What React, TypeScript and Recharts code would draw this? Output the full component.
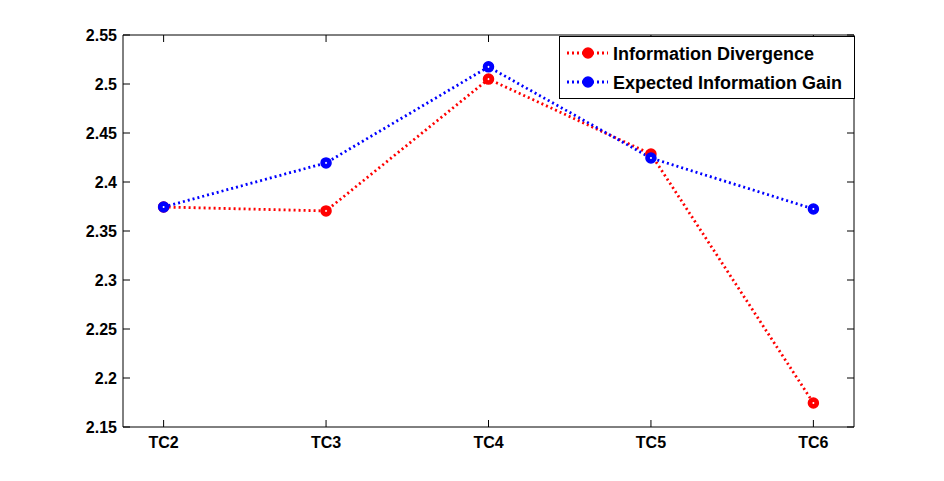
import React from 'react';
import { LineChart, Line, XAxis, YAxis, Legend } from 'recharts';

const categories = ['TC2', 'TC3', 'TC4', 'TC5', 'TC6'];
const infoDivergence = [2.3745, 2.3705, 2.505, 2.4285, 2.1745];
const expectedGain = [2.3745, 2.4195, 2.5175, 2.4245, 2.3725];
const yTicks = [2.15, 2.2, 2.25, 2.3, 2.35, 2.4, 2.45, 2.5, 2.55];
const xTicks = [2, 3, 4, 5, 6];

const data = categories.map((c, i) => ({
  x: i + 2,
  name: c,
  div: infoDivergence[i],
  gain: expectedGain[i],
}));

const FONT = "'Liberation Sans', Arial, sans-serif";
const TICK_LEN = 7;
const DASH = '2 3';
const LINE_W = 2.8;

const makeDot = (color: string) => (props: any) => {
  const { cx, cy, index } = props;
  if (cx == null || cy == null) return <g key={index} />;
  return (
    <g key={index}>
      <circle cx={cx} cy={cy} r={5} fill={color} stroke={color} strokeWidth={1.5} />
      <rect x={cx - 1} y={cy - 0.5} width={2} height={1} fill="#fff" />
      <rect x={cx - 0.5} y={cy - 1} width={1} height={2} fill="#fff" />
    </g>
  );
};

const series = [
  { key: 'div', label: 'Information Divergence', color: '#ff0000' },
  { key: 'gain', label: 'Expected Information Gain', color: '#0000ff' },
];

const LegendBox = () => (
  <svg width={296} height={63} style={{ display: 'block' }}>
    <rect x={0.5} y={0.5} width={295} height={62} fill="#fff" stroke="#000" strokeWidth={1} />
    {series.map((s, i) => {
      const cy = 17 + i * 29;
      return (
        <g key={s.key}>
          <line x1={8} x2={49} y1={cy} y2={cy} stroke={s.color} strokeWidth={LINE_W} strokeDasharray={DASH} />
          <circle cx={29} cy={cy} r={5} fill={s.color} stroke={s.color} strokeWidth={1.5} />
          <text x={54} y={cy + 7} fontFamily={FONT} fontWeight="bold" fontSize={18} fill="#000">
            {s.label}
          </text>
        </g>
      );
    })}
  </svg>
);

const fmtY = (v: number) => String(Number(v.toFixed(2)));
const fmtX = (v: number) => categories[v - 2] ?? '';

const LeftTick = (props: any) => {
  const { x, y, payload } = props;
  return (
    <g>
      <line x1={x} x2={x + TICK_LEN} y1={y} y2={y} stroke="#000" strokeWidth={1} />
      <text x={x - 6} y={y + 5.5} textAnchor="end" fontFamily={FONT} fontWeight="bold" fontSize={16} fill="#000">
        {fmtY(payload.value)}
      </text>
    </g>
  );
};

const RightTick = (props: any) => {
  const { x, y } = props;
  return <line x1={x} x2={x - TICK_LEN} y1={y} y2={y} stroke="#000" strokeWidth={1} />;
};

const BottomTick = (props: any) => {
  const { x, y, payload } = props;
  return (
    <g>
      <line x1={x} x2={x} y1={y} y2={y - TICK_LEN} stroke="#000" strokeWidth={1} />
      <text x={x} y={y + 21} textAnchor="middle" fontFamily={FONT} fontWeight="bold" fontSize={16} fill="#000">
        {fmtX(payload.value)}
      </text>
    </g>
  );
};

const TopTick = (props: any) => {
  const { x, y } = props;
  return <line x1={x} x2={x} y1={y} y2={y + TICK_LEN} stroke="#000" strokeWidth={1} />;
};

export default function App() {
  return (
    <div style={{ position: 'absolute', left: 0, top: 0, width: 944, height: 481, background: '#fff' }}>
      <LineChart width={944} height={481} data={data} margin={{ top: 5, right: 60, bottom: 0, left: 0 }}>
        <XAxis
          xAxisId="bottom"
          dataKey="x"
          type="number"
          domain={[1.75, 6.25]}
          ticks={xTicks}
          height={54}
          tickSize={0}
          tickMargin={0}
          tickLine={false}
          tick={<BottomTick />}
          axisLine={{ stroke: '#000', strokeWidth: 1 }}
          allowDataOverflow
        />
        <XAxis
          xAxisId="top"
          orientation="top"
          dataKey="x"
          type="number"
          domain={[1.75, 6.25]}
          ticks={xTicks}
          height={30}
          tickSize={0}
          tickMargin={0}
          tickLine={false}
          tick={<TopTick />}
          axisLine={{ stroke: '#000', strokeWidth: 1 }}
          allowDataOverflow
        />
        <YAxis
          yAxisId="left"
          type="number"
          domain={[2.15, 2.55]}
          ticks={yTicks}
          width={123}
          tickSize={0}
          tickMargin={0}
          tickLine={false}
          tick={<LeftTick />}
          axisLine={{ stroke: '#000', strokeWidth: 1 }}
          allowDataOverflow
        />
        <YAxis
          yAxisId="right"
          orientation="right"
          type="number"
          domain={[2.15, 2.55]}
          ticks={yTicks}
          width={30}
          tickSize={0}
          tickMargin={0}
          tickLine={false}
          tick={<RightTick />}
          axisLine={{ stroke: '#000', strokeWidth: 1 }}
          allowDataOverflow
        />
        <Legend
          layout="vertical"
          align="center"
          verticalAlign="middle"
          content={() => <LegendBox />}
          wrapperStyle={{ position: 'absolute', left: 559, top: 36, width: 296, height: 63, margin: 0 }}
        />
        {series.map((s) => (
          <Line
            key={s.key}
            xAxisId="bottom"
            yAxisId="left"
            type="linear"
            dataKey={s.key}
            name={s.label}
            stroke={s.color}
            strokeWidth={LINE_W}
            strokeDasharray={DASH}
            dot={makeDot(s.color)}
            activeDot={false}
            isAnimationActive={false}
          />
        ))}
      </LineChart>
    </div>
  );
}
